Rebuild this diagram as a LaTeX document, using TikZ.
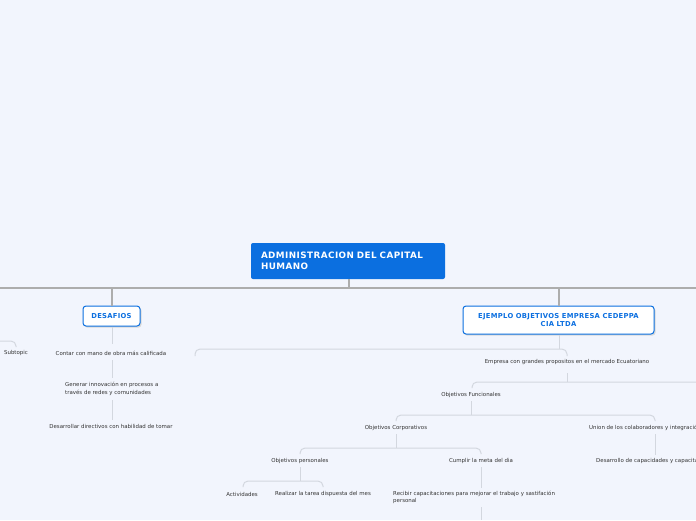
\documentclass[tikz,border=0pt]{standalone}
\usepackage{fontspec}
\setmainfont{DejaVu Sans}
\definecolor{bg}{HTML}{F2F5FD}
\definecolor{mainblue}{HTML}{0B6FE0}
\definecolor{mainline}{HTML}{ADADAD}
\definecolor{subline}{HTML}{D3D7DF}
\definecolor{txt}{HTML}{333333}
\tikzset{
  leaf/.style={font=\fontsize{5.45}{7.5}\selectfont, text=txt, inner sep=0pt},
  rootbox/.style={fill=mainblue, rounded corners=2pt, text=white, inner xsep=10pt,
    font=\fontsize{8.8}{11}\selectfont\bfseries\addfontfeatures{LetterSpace=5}, align=left, minimum height=36pt},
  topicbox/.style={draw=mainblue, fill=white, rounded corners=3pt, line width=1pt,
    text=mainblue, font=\fontsize{6.8}{8}\selectfont\bfseries\addfontfeatures{LetterSpace=4}, align=center, inner sep=0pt},
  mainconn/.style={draw=mainline, line width=1.3pt},
  subconn/.style={draw=subline, line width=1pt, rounded corners=5pt},
}
\begin{document}
\begin{tikzpicture}[x=1pt,y=-1pt]
\fill[bg] (0,0) rectangle (696,520);
\useasboundingbox (0,0) rectangle (696,520);

% root
\node[rootbox, text width=174pt, minimum width=194pt] (root) at (348,261)
  {ADMINISTRACION DEL CAPITAL\\HUMANO};

% main topics
\fill[black!15, rounded corners=3pt] (84,307.5) rectangle (141.5,327.5);
\node[topicbox, minimum width=57pt, minimum height=20pt] (desafios) at (111.5,316) {DESAFIOS};
\fill[black!15, rounded corners=3pt] (464,307.5) rectangle (655.5,335.5);
\node[topicbox, minimum width=191pt, minimum height=28pt] (ejemplo) at (558.5,320)
  {EJEMPLO OBJETIVOS EMPRESA CEDEPPA\\CIA LTDA};

% leaves
\node[leaf] (subtopic) at (16,353) {Subtopic};
\node[leaf] (contar) at (111,353) {Contar con mano de obra más calificada};
\node[leaf, anchor=west, align=left] (generar) at (65,389)
  {Generar innovación en procesos a\\través de redes y comunidades};
\node[leaf] (desarrollar) at (111,426) {Desarrollar directivos con habilidad de tomar};
\node[leaf] (empresa) at (567,362) {Empresa con grandes propositos en el mercado Ecuatoriano};
\node[leaf] (funcionales) at (471,395) {Objetivos Funcionales};
\node[leaf] (corporativos) at (396,428) {Objetivos Corporativos};
\node[leaf, anchor=west] (union) at (589,428) {Union de los colaboradores y integración};
\node[leaf] (personales) at (300,461) {Objetivos personales};
\node[leaf] (cumplir) at (481,461) {Cumplir la meta del dia};
\node[leaf, anchor=west] (desarrollo) at (596,461) {Desarrollo de capacidades y capacitación};
\node[leaf] (actividades) at (242,494) {Actividades};
\node[leaf] (realizar) at (323,494) {Realizar la tarea dispuesta del mes};
\node[leaf, anchor=west, align=left] (recibir) at (393,497.5)
  {Recibir capacitaciones para mejorar el trabajo y sastifación\\personal};

% coordinates
\coordinate (rj) at (349,288);
\coordinate (ml) at (0,288);
\coordinate (mr) at (696,288);
\coordinate (dj) at (112,288);
\coordinate (ej) at (559,288);

% main connectors
\draw[mainconn] (ml) -- (mr);
\draw[mainconn] (root.south -| rj) -- (rj);
\draw[mainconn] (dj) -- (desafios.north -| dj);
\draw[mainconn] (ej) -- (ejemplo.north -| ej);

% DESAFIOS branch
\draw[subconn] (desafios.south -| dj) -- (112,344);
\draw[subconn] (112,360) -- (112,378);
\draw[subconn] (112,400) -- (112,420);
\coordinate (sl) at (0,341);
\draw[subconn] (sl) -| (16,347);

% EJEMPLO branch
\coordinate (ejb) at (559,349);
\draw[subconn] (ejemplo.south -| ejb) -- (ejb);
\draw[subconn] (195,356) |- (567,349) -- (567,356);
\draw[subconn] (567,373) -- (567,382);
\coordinate (er) at (696,382);
\draw[subconn] (472,388) |- (er);
\draw[subconn] (471,401) -- (471,415);
\draw[subconn] (396,421) |- (655,415) -- (655,421);
\draw[subconn] (396,434) -- (396,448);
\draw[subconn] (300,454) |- (481,448) -- (481,454);
\draw[subconn] (655,434) -- (655,455);
\draw[subconn] (300,467) -- (300,481);
\draw[subconn] (243,487) |- (323,481) -- (323,487);
\draw[subconn] (481,467) -- (481,488);
\coordinate (bot) at (481,520);
\draw[subconn] (481,507) -- (bot);
\end{tikzpicture}
\end{document}
